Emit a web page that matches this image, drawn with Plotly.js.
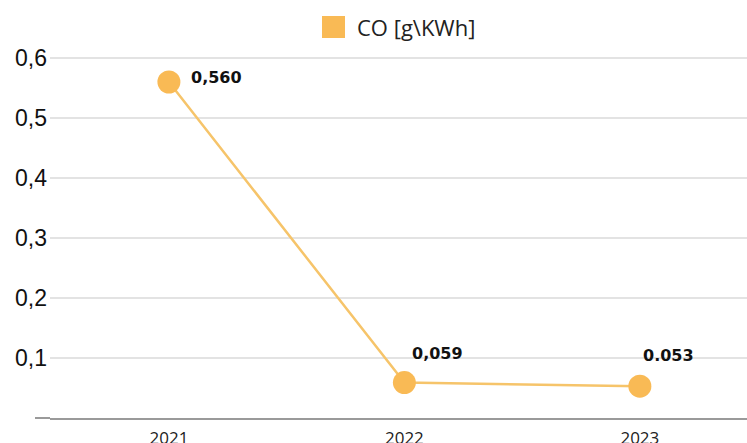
<!DOCTYPE html>
<html><head><meta charset="utf-8">
<script src="https://cdn.plot.ly/plotly-3.0.1.min.js"></script>
<style>body{margin:0;background:#fff}#c{width:747px;height:443px}</style>
</head><body><div id="c"></div>
<script>
const years = ['2021','2022','2023'];
const coValues = [0.560, 0.059, 0.053];
const valueLabels = ['0,560','0,059','0.053'];
const seriesName = 'CO [g\\KWh]';
const yTickVals = [0.1,0.2,0.3,0.4,0.5,0.6];
const yTickText = ['0,1','0,2','0,3','0,4','0,5','0,6'];

const lineColor = '#F6C46A';
const markerColor = '#F9BA55';

const trace = {
  x: years, y: coValues, type: 'scatter', mode: 'lines+markers', name: seriesName,
  line: {color: lineColor, width: 2.5},
  marker: {color: markerColor, size: 23},
  showlegend: false, hoverinfo: 'skip'
};

const offsets = [[20,5],[6,29],[1,31]];
const annotations = years.map((yr,i)=>({
  x: i, y: coValues[i], xref:'x', yref:'y', text: '<b>'+valueLabels[i]+'</b>', showarrow:false,
  xanchor:'left', yanchor:'middle', xshift: offsets[i][0], yshift: offsets[i][1],
  font:{family:'DejaVu Sans, sans-serif', size:16, color:'#111'}
}));
annotations.push({
  xref:'paper', yref:'paper', x:(355-50)/697, y:(443-25-27)/372, text: seriesName,
  showarrow:false, xanchor:'left', yanchor:'middle',
  font:{family:'Open Sans, sans-serif', size:22, color:'#222'}
});

const layout = {
  width:747, height:443,
  margin:{l:50, r:0, t:46, b:25},
  paper_bgcolor:'#fff', plot_bgcolor:'#fff',
  xaxis:{type:'category', range:[-0.505, 2.455], showgrid:false, zeroline:false,
    showline:true, linecolor:'#9a9a9a', linewidth:2, ticks:'', ticklabelstandoff:4,
    tickfont:{family:'Open Sans, sans-serif', size:17, color:'#222'}},
  yaxis:{range:[0,0.62], tickvals:yTickVals, ticktext:yTickText, showgrid:true,
    gridcolor:'#e3e3e3', gridwidth:1.5, zeroline:false, showline:false, ticks:'',
    ticklabelstandoff:2,
    tickfont:{family:'Liberation Sans, Arial, sans-serif', size:23, color:'#111'}},
  annotations: annotations,
  shapes:[
    {type:'rect', xref:'paper', yref:'paper', x0:(322-50)/697, x1:(345-50)/697,
      y0:(443-25-38)/372, y1:(443-25-16)/372, fillcolor:markerColor, line:{width:0}},
    {type:'line', xref:'paper', yref:'paper', x0:-15/697, x1:0, y0:0, y1:0,
      line:{color:'#9a9a9a', width:2}}
  ]
};
Plotly.newPlot('c',[trace],layout,{displayModeBar:false, staticPlot:true});
</script></body></html>
